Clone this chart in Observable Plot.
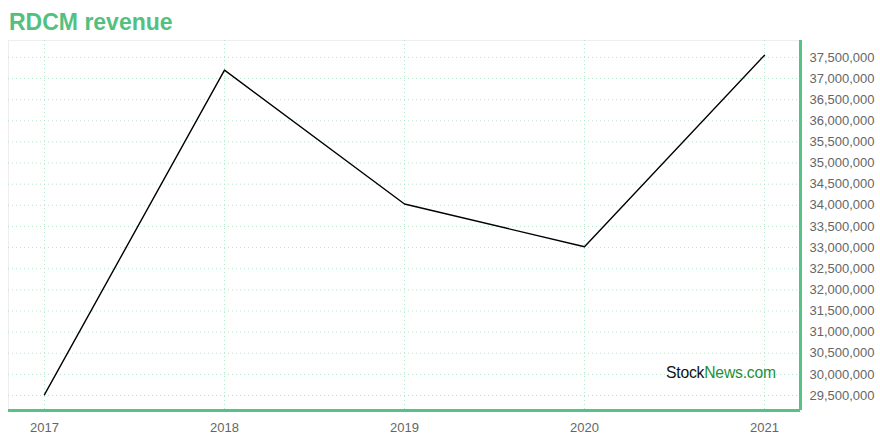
<!DOCTYPE html>
<html>
<head>
<meta charset="utf-8">
<script src="https://cdn.jsdelivr.net/npm/d3@7"></script>
<script src="https://cdn.jsdelivr.net/npm/@observablehq/plot@0.6"></script>
<style>
  html, body { margin: 0; padding: 0; background: #fff; }
  #wrap { position: relative; width: 880px; height: 440px; font-family: "Liberation Sans", Arial, sans-serif; }
  #title { height: 36px; box-sizing: border-box; padding: 9px 0 0 9px; font-size: 23px; font-weight: bold; color: #52c17f; line-height: 26px; }
  #mark { position: absolute; left: 666px; top: 364px; font-size: 15.7px; letter-spacing: -0.2px; }
  #mark .a { color: #111; }
  #mark .b { color: #1f8f3a; }
  svg { display: block; }
</style>
</head>
<body>
<div id="wrap">
  <div id="title">RDCM revenue</div>
  <div id="chart"></div>
  <div id="mark"><span class="a">Stock</span><span class="b">News.com</span></div>
</div>
<script>
const years = [2017, 2018, 2019, 2020, 2021];
const revenue = [29520000, 37200000, 34030000, 33020000, 37550000];
const yTicks = [29500000, 30000000, 30500000, 31000000, 31500000, 32000000, 32500000, 33000000, 33500000, 34000000, 34500000, 35000000, 35500000, 36000000, 36500000, 37000000, 37500000];
const xDomain = [2016.8, 2021.2];
const yDomain = [29145000, 37900000];

const data = years.map((y, i) => ({year: y, value: revenue[i]}));
const green = "#55c386";
const gridColor = "#b5e6cb";

const chart = Plot.plot({
  width: 880,
  height: 404,
  marginTop: 4,
  marginBottom: 30,
  marginLeft: 8,
  marginRight: 80,
  style: {fontFamily: "'Liberation Sans', Arial, sans-serif", fontSize: "13px", color: "#666"},
  x: {domain: xDomain, ticks: years},
  y: {domain: yDomain, ticks: yTicks},
  marks: [
    Plot.frame({stroke: "#eeeeee"}),
    Plot.gridY(yTicks, {stroke: gridColor, strokeOpacity: 1, strokeDasharray: "1,3"}),
    Plot.gridX(years, {stroke: gridColor, strokeOpacity: 1, strokeDasharray: "1,3"}),
    Plot.axisY(yTicks, {anchor: "right", tickSize: 0, tickPadding: 9, fontSize: 13, tickFormat: d => d3.format(",")(d), fill: "#666", label: null}),
    Plot.axisX(years, {anchor: "bottom", tickSize: 0, tickPadding: 12, fontSize: 13, tickFormat: d => String(d), fill: "#666", label: null}),
    Plot.line(data, {x: "year", y: "value", stroke: "#000", strokeWidth: 1.4}),
    Plot.ruleX([xDomain[1]], {stroke: green, strokeWidth: 3}),
    Plot.ruleY([yDomain[0]], {stroke: green, strokeWidth: 3})
  ]
});
document.getElementById("chart").appendChild(chart);
</script>
</body>
</html>
